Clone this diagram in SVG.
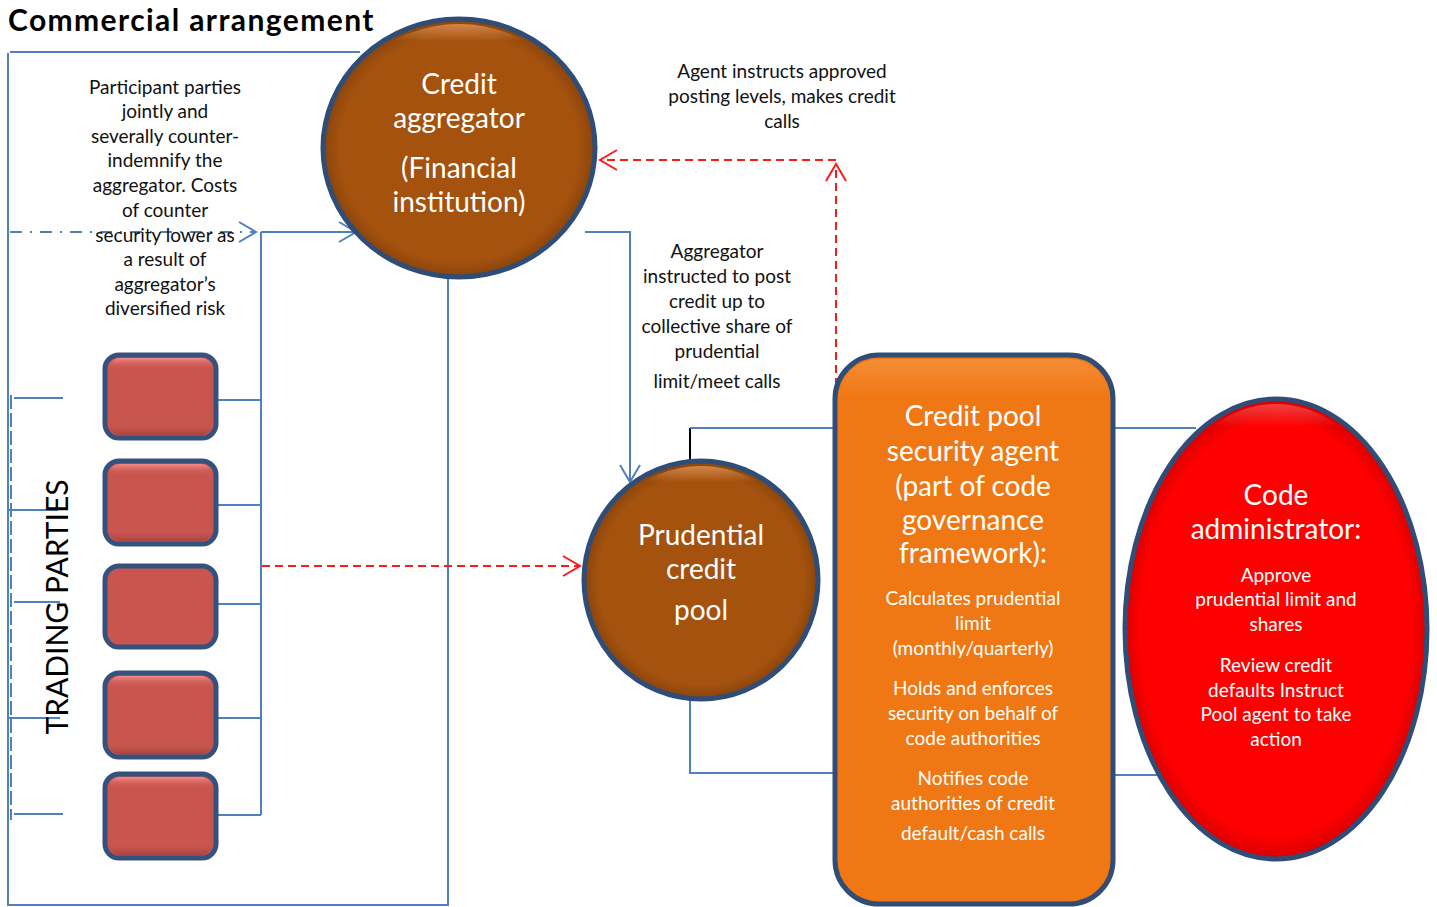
<svg xmlns="http://www.w3.org/2000/svg" width="1437" height="907" viewBox="0 0 1437 907">
  <style>
    .title { font-family: Lato, "Open Sans", sans-serif; font-weight: 700; font-size: 30px; letter-spacing: 1.4px; fill: #000; }
    .note { font-family: Lato, "Open Sans", sans-serif; font-size: 19px; fill: #111; text-anchor: middle; }
    .big { font-family: Lato, "Open Sans", sans-serif; font-size: 28px; fill: #fff; text-anchor: middle; }
    .small { font-family: Lato, "Open Sans", sans-serif; font-size: 19px; fill: #fff; text-anchor: middle; }
    .side { font-family: Lato, "Open Sans", sans-serif; font-size: 30px; fill: #000; text-anchor: middle; }
    .wire { fill: none; stroke: #4f81bd; stroke-width: 2; }
    .red { fill: none; stroke: #ff1a1a; stroke-width: 2; stroke-dasharray: 8 5; }
    .rim { stroke: #2f4d76; stroke-width: 5; }
    .party { fill: #c9554f; stroke: #34527d; stroke-width: 5; }
  </style>
  <defs>
    <marker id="arrowBlue" markerUnits="userSpaceOnUse" markerWidth="22" markerHeight="24" viewBox="0 0 22 24" refX="19" refY="12" orient="auto">
      <path d="M2,2 L19,12 L2,22" fill="none" stroke="#4f81bd" stroke-width="2"/>
    </marker>
    <marker id="arrowRed" markerUnits="userSpaceOnUse" markerWidth="22" markerHeight="24" viewBox="0 0 22 24" refX="19" refY="12" orient="auto">
      <path d="M2,2 L19,12 L2,22" fill="none" stroke="#ff1a1a" stroke-width="2"/>
    </marker>
    <radialGradient id="brownFill" cx="50%" cy="50%" r="50%">
      <stop offset="0.88" stop-color="#a4520e"/>
      <stop offset="1" stop-color="#8a440c"/>
    </radialGradient>
    <radialGradient id="redFill" cx="50%" cy="50%" r="50%">
      <stop offset="0.9" stop-color="#ff0000"/>
      <stop offset="1" stop-color="#d80000"/>
    </radialGradient>
    <!-- thin bevel highlight along the upper edge -->
    <linearGradient id="sheen" x1="0" y1="0" x2="0" y2="1">
      <stop offset="0" stop-color="#ffb070" stop-opacity="0.6"/>
      <stop offset="0.07" stop-color="#ffb070" stop-opacity="0"/>
    </linearGradient>
    <linearGradient id="sheenRed" x1="0" y1="0" x2="0" y2="1">
      <stop offset="0" stop-color="#ff8080" stop-opacity="0.5"/>
      <stop offset="0.05" stop-color="#ff8080" stop-opacity="0"/>
    </linearGradient>
    <linearGradient id="partyTop" x1="0" y1="0" x2="0" y2="1">
      <stop offset="0" stop-color="#f48a86"/>
      <stop offset="0.15" stop-color="#c9554f" stop-opacity="0"/>
      <stop offset="0.85" stop-color="#c9554f" stop-opacity="0"/>
      <stop offset="1" stop-color="#8e3834" stop-opacity="0.6"/>
    </linearGradient>
  </defs>

  <!-- heading -->
  <text class="title" x="8" y="31">Commercial arrangement</text>

  <!-- connectors -->
  <g id="connectors">
    <!-- outer frame around the trading parties -->
    <path class="wire" d="M10,52 L360,52"/>
    <path class="wire" d="M8,53 L8,905 L448,905 L448,278"/>
    <path class="wire" d="M11,395 L11,820" stroke-dasharray="14 4"/>
    <!-- counter-indemnity path into the aggregator -->
    <path class="wire" d="M10,232 L256,232" stroke-dasharray="12 8 2 8" marker-end="url(#arrowBlue)"/>
    <path class="wire" d="M261,232 L356,232" marker-end="url(#arrowBlue)"/>
    <path class="wire" d="M261,232 L261,815"/>
    <path class="wire" d="M215,400 L261,400"/>
    <path class="wire" d="M215,505 L261,505"/>
    <path class="wire" d="M215,604 L261,604"/>
    <path class="wire" d="M215,718 L261,718"/>
    <path class="wire" d="M210,815 L261,815"/>
    <!-- stubs on the left -->
    <path class="wire" d="M14,398 L63,398"/>
    <path class="wire" d="M9,510 L58,510"/>
    <path class="wire" d="M14,602 L60,602"/>
    <path class="wire" d="M9,718 L60,718"/>
    <path class="wire" d="M14,814 L63,814"/>
    <!-- aggregator to pool -->
    <path class="wire" d="M585,232 L630,232 L630,482" marker-end="url(#arrowBlue)"/>
    <!-- trading parties to pool -->
    <path class="red" d="M262,566 L580,566" marker-end="url(#arrowRed)"/>
    <!-- agent to aggregator -->
    <path class="red" d="M836,490 L836,164" marker-end="url(#arrowRed)"/>
    <path class="red" d="M836,160 L600,160" marker-end="url(#arrowRed)"/>
    <!-- pool to security agent -->
    <path d="M690,460 L690,428" fill="none" stroke="#000" stroke-width="2"/>
    <path class="wire" d="M690,428 L834,428"/>
    <path class="wire" d="M690,700 L690,773 L834,773"/>
    <!-- security agent to code administrator -->
    <path class="wire" d="M1114,428 L1196,428"/>
    <path class="wire" d="M1114,775 L1170,775"/>
  </g>

  <!-- notes -->
  <g id="note-indemnity">
    <text class="note" x="165" y="94">Participant parties</text>
    <text class="note" x="165" y="118">jointly and</text>
    <text class="note" x="165" y="143">severally counter-</text>
    <text class="note" x="165" y="167">indemnify the</text>
    <text class="note" x="165" y="192">aggregator. Costs</text>
    <text class="note" x="165" y="217">of counter</text>
    <text class="note" x="165" y="242">security lower as</text>
    <text class="note" x="165" y="266">a result of</text>
    <text class="note" x="165" y="291">aggregator’s</text>
    <text class="note" x="165" y="315">diversified risk</text>
  </g>
  <g id="note-agent">
    <text class="note" x="782" y="78">Agent instructs approved</text>
    <text class="note" x="782" y="103">posting levels, makes credit</text>
    <text class="note" x="782" y="128">calls</text>
  </g>
  <g id="note-aggregator">
    <text class="note" x="717" y="258">Aggregator</text>
    <text class="note" x="717" y="283">instructed to post</text>
    <text class="note" x="717" y="308">credit up to</text>
    <text class="note" x="717" y="333">collective share of</text>
    <text class="note" x="717" y="358">prudential</text>
    <text class="note" x="717" y="388">limit/meet calls</text>
  </g>

  <!-- trading parties -->
  <g id="trading-parties">
    <text class="side" transform="translate(68,607) rotate(-90)">TRADING PARTIES</text>
    <g id="party-1">
      <rect class="party" x="105" y="355" width="111" height="83" rx="14"/>
      <rect x="108" y="358" width="105" height="77" rx="12" fill="url(#partyTop)"/>
    </g>
    <g id="party-2">
      <rect class="party" x="105" y="461" width="111" height="83" rx="14"/>
      <rect x="108" y="464" width="105" height="77" rx="12" fill="url(#partyTop)"/>
    </g>
    <g id="party-3">
      <rect class="party" x="105" y="566" width="111" height="81" rx="14" fill="#c0504d"/>
    </g>
    <g id="party-4">
      <rect class="party" x="105" y="673" width="111" height="84" rx="14"/>
      <rect x="108" y="676" width="105" height="78" rx="12" fill="url(#partyTop)"/>
    </g>
    <g id="party-5">
      <rect class="party" x="105" y="774" width="111" height="84" rx="14"/>
      <rect x="108" y="777" width="105" height="78" rx="12" fill="url(#partyTop)"/>
    </g>
  </g>

  <!-- credit aggregator -->
  <g id="credit-aggregator">
    <ellipse class="rim" cx="459" cy="148" rx="136" ry="129" fill="url(#brownFill)"/>
    <ellipse cx="459" cy="148" rx="131" ry="124" fill="url(#sheen)"/>
    <text class="big" x="459" y="94">Credit</text>
    <text class="big" x="459" y="128">aggregator</text>
    <text class="big" x="459" y="178">(Financial</text>
    <text class="big" x="459" y="212">institution)</text>
  </g>

  <!-- prudential credit pool -->
  <g id="prudential-pool">
    <ellipse class="rim" cx="701" cy="580" rx="117" ry="119" fill="url(#brownFill)"/>
    <ellipse cx="701" cy="580" rx="112" ry="114" fill="url(#sheen)"/>
    <text class="big" x="701" y="545">Prudential</text>
    <text class="big" x="701" y="579">credit</text>
    <text class="big" x="701" y="620">pool</text>
  </g>

  <!-- security agent -->
  <g id="security-agent">
    <rect class="rim" x="835" y="355" width="278" height="549" rx="44" fill="#f07814"/>
    <rect x="839" y="359" width="270" height="541" rx="40" fill="url(#sheen)" opacity="0.6"/>
    <text class="big" x="973" y="426">Credit pool</text>
    <text class="big" x="973" y="461">security agent</text>
    <text class="big" x="973" y="496">(part of code</text>
    <text class="big" x="973" y="530">governance</text>
    <text class="big" x="973" y="563">framework):</text>
    <text class="small" x="973" y="605">Calculates prudential</text>
    <text class="small" x="973" y="630">limit</text>
    <text class="small" x="973" y="655">(monthly/quarterly)</text>
    <text class="small" x="973" y="695">Holds and enforces</text>
    <text class="small" x="973" y="720">security on behalf of</text>
    <text class="small" x="973" y="745">code authorities</text>
    <text class="small" x="973" y="785">Notifies code</text>
    <text class="small" x="973" y="810">authorities of credit</text>
    <text class="small" x="973" y="840">default/cash calls</text>
  </g>

  <!-- code administrator -->
  <g id="code-administrator">
    <ellipse class="rim" cx="1276" cy="629" rx="151" ry="230" fill="url(#redFill)"/>
    <ellipse cx="1276" cy="629" rx="146" ry="225" fill="url(#sheenRed)"/>
    <text class="big" x="1276" y="505">Code</text>
    <text class="big" x="1276" y="539">administrator:</text>
    <text class="small" x="1276" y="582">Approve</text>
    <text class="small" x="1276" y="606">prudential limit and</text>
    <text class="small" x="1276" y="631">shares</text>
    <text class="small" x="1276" y="672">Review credit</text>
    <text class="small" x="1276" y="697">defaults Instruct</text>
    <text class="small" x="1276" y="721">Pool agent to take</text>
    <text class="small" x="1276" y="746">action</text>
  </g>
</svg>
